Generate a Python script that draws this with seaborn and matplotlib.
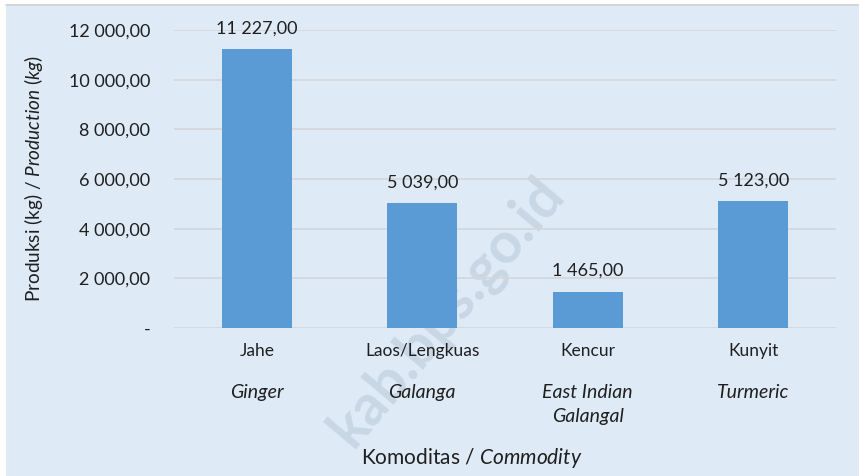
import pandas as pd
import seaborn as sns
import matplotlib.pyplot as plt
import matplotlib.patches as mpatches

commodity_id = ["Jahe", "Laos/Lengkuas", "Kencur", "Kunyit"]
commodity_en = ["Ginger", "Galanga", "East Indian\nGalangal", "Turmeric"]
production = [11227.00, 5039.00, 1465.00, 5123.00]
yticks = [0, 2000, 4000, 6000, 8000, 10000, 12000]

BG = "#DEEAF6"
BAR = "#5B9BD5"
TXT = "#1f1f1f"


def fmt_id(v):
    if v == 0:
        return "-"
    s = f"{v:,.2f}"
    return s.replace(",", " ").replace(".", ",")


sns.set_style("white")
plt.rcParams["font.family"] = ["Lato", "DejaVu Sans"]
plt.rcParams["mathtext.fontset"] = "custom"
plt.rcParams["mathtext.rm"] = "Lato"
plt.rcParams["mathtext.it"] = "Lato:italic"

df = pd.DataFrame({"komoditas": commodity_id, "produksi": production})

fig = plt.figure(figsize=(8.59, 4.76), dpi=100, facecolor="white")
fig.patches.append(mpatches.Rectangle((6 / 859, 0), 1, 471 / 476, transform=fig.transFigure,
                                      facecolor=BG, edgecolor="none", zorder=-3))
fig.lines.append(plt.Line2D([6 / 859, 1], [471 / 476, 471 / 476], transform=fig.transFigure,
                            color="#d0d0d0", linewidth=1.2))

ax = fig.add_axes([174 / 859, 148 / 476, 662 / 859, 298 / 476])
ax.set_facecolor("none")

sns.barplot(data=df, x="komoditas", y="produksi", color=BAR, width=0.42,
            saturation=1, linewidth=0, ax=ax, zorder=3)

ax.set_xlim(-0.5, 3.5)
ax.set_ylim(0, 12000)
ax.set_yticks(yticks, [fmt_id(t) for t in yticks])
ax.grid(axis="y", color="#d4d6d9", linewidth=1.2, zorder=0)
ax.tick_params(axis="y", length=0, pad=17, labelsize=13, labelcolor=TXT)
ax.tick_params(axis="x", length=0, pad=11, labelsize=12.5, labelcolor=TXT)
for s in ax.spines.values():
    s.set_visible(False)

ax.bar_label(ax.containers[0], labels=[fmt_id(v) for v in production],
             padding=9, fontsize=13, color=TXT)

for i, name in enumerate(commodity_en):
    ax.annotate(name, xy=(i, 0), xycoords=("data", "axes fraction"),
                xytext=(0, -56), textcoords="offset pixels", ha="center", va="top",
                fontsize=14, style="italic", color=TXT, linespacing=1.5)

ax.set_xlabel("")
ax.set_ylabel(r"Produksi (kg) / $\it{Production\ (kg)}$", fontsize=13.7, color=TXT)
ax.yaxis.set_label_coords(-0.195, 0.5)

fig.text(472 / 859, 1 - 458 / 476, r"Komoditas / $\it{Commodity}$", ha="center", va="center",
         fontsize=15, color=TXT)

fig.text(0.52, 0.345, "kab.bps.go.id", rotation=50, ha="center", va="center",
         fontsize=41, fontweight="bold", color="#c9d6e3", zorder=-1)

fig.savefig("out.png", dpi=100, facecolor=fig.get_facecolor())
